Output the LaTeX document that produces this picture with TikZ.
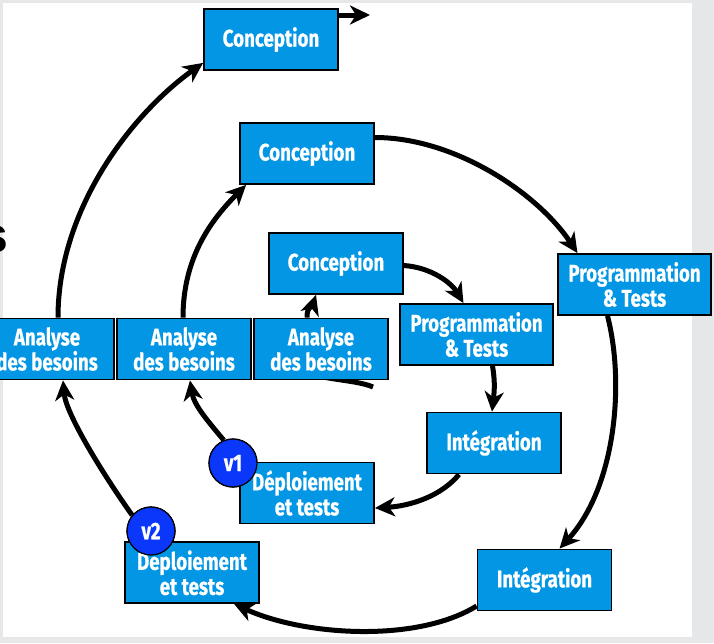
\documentclass[tikz,border=0pt]{standalone}
\usepackage{fontspec}
\setmainfont{Fira Sans}
\newfontfamily\boxfont[FakeStretch=0.78,FakeBold=0.6]{Fira Sans}
\newfontfamily\titlefont{Liberation Sans}
\usetikzlibrary{arrows.meta}
\definecolor{boxblue}{RGB}{3,150,228}
\definecolor{vblue}{RGB}{10,55,250}
\definecolor{bggray}{RGB}{230,231,233}
\begin{document}
\begin{tikzpicture}[x=1pt,y=-1pt,
  phase/.style={draw=black, line width=1.8pt, fill=boxblue, text=white,
    font=\boxfont\bfseries\fontsize{24}{25}\selectfont, align=center,
    minimum width=134pt, minimum height=61pt, inner sep=0pt},
  wide/.style={phase, minimum width=153pt},
  ver/.style={circle, draw=black, line width=1.2pt, fill=vblue, text=white,
    font=\boxfont\bfseries\fontsize{24}{24}\selectfont, minimum size=48pt, inner sep=0pt},
  flow/.style={line width=5pt, -{Stealth[length=20pt,width=19pt,inset=6pt]}},
  tailline/.style={line width=5pt}]
\useasboundingbox (0,0) rectangle (714,643);
\clip (0,0) rectangle (714,643);
\fill[bggray] (0,0) rectangle (714,643);
\fill[white] (3,3) rectangle (692,637);

% nodes placed first (for their anchors); drawn again on top of the connectors
\path
  node[phase] (C3) at (271,39.5) {Conception}
  node[phase] (C2) at (307,153.5) {Conception}
  node[phase] (C1) at (336,263.5) {Conception}
  node[phase] (A3) at (47,349) {Analyse\\des besoins}
  node[phase] (A2) at (184,349) {Analyse\\des besoins}
  node[phase] (A1) at (321,349) {Analyse\\des besoins}
  node[wide]  (P1) at (476.5,334.5) {Programmation\\\& Tests}
  node[wide]  (P2) at (634.5,284.5) {Programmation\\\& Tests}
  node[phase] (I1) at (494,443) {Intégration}
  node[phase] (I2) at (544.5,580) {Intégration}
  node[phase] (D1) at (307,493) {Déploiement\\et tests}
  node[phase] (D2) at (192,572.5) {Déploiement\\et tests};
\path node[ver] (v1) at (233,463) {v1}
      node[ver] (v2) at (151,531) {v2};

% connectors
\coordinate (sp) at (373,387);
\coordinate (cx) at (370,15);
\draw[tailline] (sp) .. controls +(-14,-6) and +(20,5) .. ([xshift=-5pt,yshift=5pt]A1.south);
\draw[flow] ([xshift=-14pt]A1.north) .. controls +(0,-12) and +(-4,12) .. ([xshift=-20pt]C1.south);
\draw[flow] ([yshift=-2pt]C1.east) .. controls +(28,2) and +(-12,-20) .. ([xshift=-13pt]P1.north);
\draw[flow] ([xshift=16pt]P1.south) .. controls +(3,18) and +(2,-18) .. ([xshift=-2pt]I1.north);
\draw[flow] ([xshift=-35pt]I1.south) .. controls +(-18,22) and +(35,-2) .. ([yshift=-15pt]D1.east);
\draw[flow] (v1.112) .. controls +(-15,-18) and +(4,25) .. ([xshift=6pt]A2.south);
\draw[flow] ([xshift=-1pt]A2.north) .. controls +(0,-60) and +(-35,35) .. ([xshift=7pt]C2.south west);
\draw[flow] ([yshift=16pt]C2.east) .. controls +(80,0) and +(-40,-60) .. ([xshift=-57pt]P2.north);
\draw[flow] ([xshift=-27pt]P2.south) .. controls +(18,70) and +(55,-60) .. ([xshift=15pt]I2.north);
\draw[flow] ([yshift=-26pt]I2.west) .. controls +(-60,37) and +(70,32) .. ([xshift=42pt]D2.south);
\draw[flow] (v2.140) .. controls +(-25,-35) and +(3,35) .. ([xshift=16pt]A3.south);
\draw[flow] ([xshift=11pt]A3.north) .. controls +(0,-110) and +(-70,50) .. ([yshift=8pt]C3.south west);
\draw[flow] ([yshift=24.5pt]C3.east) -- (cx);

% boxes on top of connectors
\node[phase] at (C3) {Conception};
\node[phase] at (C2) {Conception};
\node[phase] at (C1) {Conception};
\node[phase] at (A3) {Analyse\\des besoins};
\node[phase] at (A2) {Analyse\\des besoins};
\node[phase] at (A1) {Analyse\\des besoins};
\node[wide]  at (P1) {Programmation\\\& Tests};
\node[wide]  at (P2) {Programmation\\\& Tests};
\node[phase] at (I1) {Intégration};
\node[phase] at (I2) {Intégration};
\node[phase] at (D1) {Déploiement\\et tests};
\node[phase] at (D2) {Déploiement\\et tests};
\node[ver] at (v1) {v1};
\node[ver] at (v2) {v2};

\node[anchor=base east, inner sep=0pt, font=\titlefont\bfseries\fontsize{50}{50}\selectfont] (ttl) at (9,252) {s};
\end{tikzpicture}
\end{document}
